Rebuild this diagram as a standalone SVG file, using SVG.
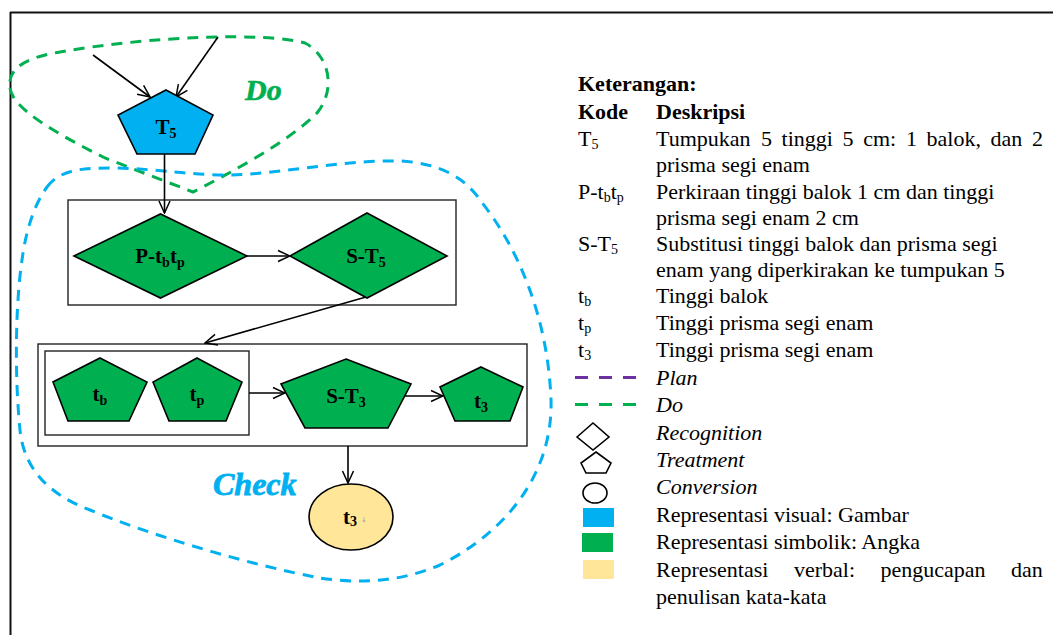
<svg xmlns="http://www.w3.org/2000/svg" width="1053" height="635" viewBox="0 0 1053 635">
  <style>
    .frame { stroke: #111; stroke-width: 2; fill: none; }
    .box { fill: none; stroke: #222; stroke-width: 1.4; }
    .node { stroke: #000; stroke-width: 1.6; }
    .visual { fill: #00B0F0; }
    .symbolic { fill: #00B050; }
    .verbal { fill: #FFE699; }
    .edge { stroke: #000; stroke-width: 1.6; fill: none; marker-end: url(#arr); }
    .loop-do { fill: none; stroke: #00B050; stroke-width: 3; stroke-dasharray: 11 8; }
    .loop-check { fill: none; stroke: #00B0F0; stroke-width: 3; stroke-dasharray: 11 8; }
    .lbl { font-family: "Liberation Serif", "Times New Roman", serif; font-weight: bold; font-size: 21px; fill: #000; }
    .sub { font-size: 14px; }
    .phase { font-family: "Liberation Serif", "Times New Roman", serif; font-weight: bold; font-style: italic; }
    .leg { font-family: "Liberation Serif", "Times New Roman", serif; font-size: 22px; fill: #000; }
    .legsub { font-size: 14px; }
    .hd { font-weight: bold; }
    .it { font-style: italic; }
    .icon { fill: #fff; stroke: #000; stroke-width: 1.6; }
  </style>
  <defs>
    <marker id="arr" viewBox="0 0 14 14" refX="13" refY="7" markerWidth="14" markerHeight="14" markerUnits="userSpaceOnUse" orient="auto">
      <path d="M1,1.5 L13,7 L1,12.5" fill="none" stroke="#000" stroke-width="1.5"/>
    </marker>
  </defs>

  <rect width="1053" height="635" fill="#fff"/>

  <!-- page frame (top and left rules only) -->
  <path class="frame" d="M10,12.5 H1053 M10.5,12 V635"/>

  <!-- phase boundaries -->
  <g id="phase-do">
    <path class="loop-do" d="M10,88 C12,108 55,133 105,158 L193,192 C232,172 288,142 317,113 C336,90 330,56 305,43 C268,32 150,36 60,52 C30,57 7,66 10,88 Z"/>
    <text class="phase" x="245" y="100" font-size="30" fill="#00B050" stroke="#00B050" stroke-width="0.6">Do</text>
  </g>
  <g id="phase-check">
    <path class="loop-check" d="M47,187 C60,170 80,168 110,168 C160,168 200,178 250,174 C300,170 350,160 400,161 C440,163 465,178 480,200 C520,250 548,320 551,400 C553,470 510,530 440,565 C400,582 360,584 320,578 C250,565 150,535 90,510 C50,495 24,470 20,430 C14,370 16,300 22,260 C26,230 34,205 47,187 Z"/>
    <text class="phase" x="213" y="495" font-size="32" fill="#00B0F0" stroke="#00B0F0" stroke-width="0.8">Check</text>
  </g>

  <!-- grouping boxes -->
  <g id="box-recognition">
    <rect class="box" x="68" y="200" width="388" height="105"/>
  </g>
  <g id="box-treatment">
    <rect class="box" x="38" y="344" width="489" height="102"/>
    <rect class="box" x="45" y="351" width="204" height="84"/>
  </g>

  <!-- connectors -->
  <g id="connectors">
    <line class="edge" x1="93" y1="55" x2="150" y2="97"/>
    <line class="edge" x1="218" y1="37" x2="176" y2="97"/>
    <line class="edge" x1="164.5" y1="154" x2="164.5" y2="213"/>
    <line class="edge" x1="247" y1="256" x2="290" y2="256"/>
    <line class="edge" x1="366" y1="297" x2="205" y2="343"/>
    <line class="edge" x1="249" y1="393" x2="285" y2="393"/>
    <line class="edge" x1="405" y1="396" x2="443" y2="396"/>
    <line class="edge" x1="348" y1="446" x2="348" y2="483"/>
  </g>

  <!-- nodes -->
  <g id="node-T5">
    <polygon class="node visual" points="166,90 213,115 195,154 137,154 118,115"/>
    <text class="lbl" x="166" y="134" text-anchor="middle">T<tspan class="sub" dy="4">5</tspan></text>
  </g>
  <g id="node-P-tbtp">
    <polygon class="node symbolic" points="74,256 160.5,214 247,256 160.5,298"/>
    <text class="lbl" x="160" y="263" text-anchor="middle">P-t<tspan class="sub" dy="4">b</tspan><tspan dy="-4">t</tspan><tspan class="sub" dy="4">p</tspan></text>
  </g>
  <g id="node-S-T5">
    <polygon class="node symbolic" points="290,256 367,213 447,256 367,298"/>
    <text class="lbl" x="366" y="263" text-anchor="middle">S-T<tspan class="sub" dy="4">5</tspan></text>
  </g>
  <g id="node-tb">
    <polygon class="node symbolic" points="100,358 147,382 129,421 68,421 53,382"/>
    <text class="lbl" x="100" y="401" text-anchor="middle">t<tspan class="sub" dy="4">b</tspan></text>
  </g>
  <g id="node-tp">
    <polygon class="node symbolic" points="197,358 242,382 226,421 169,421 153,382"/>
    <text class="lbl" x="197" y="401" text-anchor="middle">t<tspan class="sub" dy="4">p</tspan></text>
  </g>
  <g id="node-S-T3">
    <polygon class="node symbolic" points="346,359 411,384 388,428 305,428 281,384"/>
    <text class="lbl" x="346" y="403" text-anchor="middle">S-T<tspan class="sub" dy="4">3</tspan></text>
  </g>
  <g id="node-t3">
    <polygon class="node symbolic" points="481,367 523,387 510,421 455,421 440,387"/>
    <text class="lbl" x="481" y="408" text-anchor="middle">t<tspan class="sub" dy="4">3</tspan></text>
  </g>
  <g id="node-t3-verbal">
    <ellipse class="node verbal" cx="351" cy="517" rx="42" ry="33"/>
    <text class="lbl" x="350" y="524" text-anchor="middle">t<tspan class="sub" dy="2">3</tspan></text>
    <text x="361" y="522" font-family="DejaVu Sans, sans-serif" font-size="7" fill="#999">↓</text>
  </g>

  <!-- key -->
  <g id="legend">
    <text class="leg hd" x="578" y="91">Keterangan:</text>
    <text class="leg hd" x="578" y="119">Kode</text>
    <text class="leg hd" x="656" y="119">Deskripsi</text>

    <text class="leg" x="578" y="146">T<tspan class="legsub" dy="3">5</tspan></text>
    <text class="leg" y="146"><tspan x="656">Tumpukan</tspan><tspan x="761">5</tspan><tspan x="781.6">tinggi</tspan><tspan x="842.6">5</tspan><tspan x="863.2">cm:</tspan><tspan x="905.9">1</tspan><tspan x="926.5">balok,</tspan><tspan x="990.6">dan</tspan><tspan x="1032">2</tspan></text>
    <text class="leg" x="656" y="172">prisma segi enam</text>

    <text class="leg" x="578" y="199">P-t<tspan class="legsub" dy="3">b</tspan><tspan dy="-3">t</tspan><tspan class="legsub" dy="3">p</tspan></text>
    <text class="leg" x="656" y="199">Perkiraan tinggi balok 1 cm dan tinggi</text>
    <text class="leg" x="656" y="225">prisma segi enam 2 cm</text>

    <text class="leg" x="578" y="251">S-T<tspan class="legsub" dy="3">5</tspan></text>
    <text class="leg" x="656" y="251">Substitusi tinggi balok dan prisma segi</text>
    <text class="leg" x="656" y="277">enam yang diperkirakan ke tumpukan 5</text>

    <text class="leg" x="578" y="303">t<tspan class="legsub" dy="3">b</tspan></text>
    <text class="leg" x="656" y="303">Tinggi balok</text>
    <text class="leg" x="578" y="330">t<tspan class="legsub" dy="3">p</tspan></text>
    <text class="leg" x="656" y="330">Tinggi prisma segi enam</text>
    <text class="leg" x="578" y="357">t<tspan class="legsub" dy="3">3</tspan></text>
    <text class="leg" x="656" y="357">Tinggi prisma segi enam</text>

    <line x1="575" y1="377.5" x2="638" y2="377.5" stroke="#7030A0" stroke-width="3" stroke-dasharray="13 11"/>
    <text class="leg it" x="656" y="385">Plan</text>
    <line x1="575" y1="404.5" x2="638" y2="404.5" stroke="#00B050" stroke-width="3" stroke-dasharray="13 11"/>
    <text class="leg it" x="656" y="412">Do</text>

    <polygon class="icon" points="577,437 593,423 609,437 593,450"/>
    <text class="leg it" x="656" y="440">Recognition</text>
    <polygon class="icon" points="596,452 611,463 606,473 586,473 581,463"/>
    <text class="leg it" x="656" y="467">Treatment</text>
    <ellipse class="icon" cx="595" cy="493" rx="12" ry="10"/>
    <text class="leg it" x="656" y="494">Conversion</text>

    <rect class="visual" x="583" y="508" width="31" height="19"/>
    <text class="leg" x="656" y="522">Representasi visual: Gambar</text>
    <rect class="symbolic" x="582" y="533" width="31" height="19"/>
    <text class="leg" x="656" y="549">Representasi simbolik: Angka</text>
    <rect class="verbal" x="583" y="560" width="31" height="19"/>
    <text class="leg" y="577"><tspan x="656">Representasi</tspan><tspan x="794">verbal:</tspan><tspan x="880.5">pengucapan</tspan><tspan x="1011">dan</tspan></text>
    <text class="leg" x="656" y="604">penulisan kata-kata</text>
  </g>
</svg>
